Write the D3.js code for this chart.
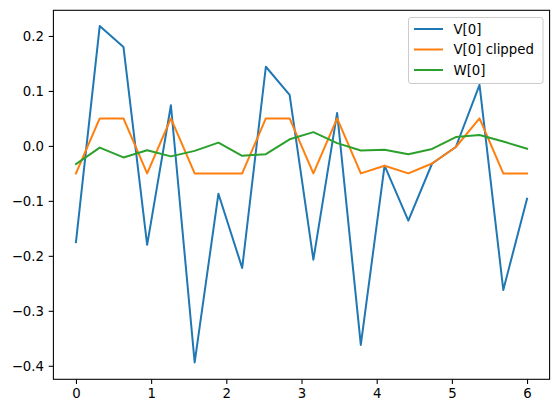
<!DOCTYPE html>
<html>
<head>
<meta charset="utf-8">
<script src="https://cdn.jsdelivr.net/npm/d3@7"></script>
<style>
  body { margin: 0; background: #fff; }
  svg text { font-family: "DejaVu Sans", sans-serif; }
</style>
</head>
<body>
<svg id="chart" width="559" height="413"></svg>
<script>
// x positions: 20 samples from 0 to 6
var xs = [0, 0.316, 0.632, 0.947, 1.263, 1.579, 1.895, 2.211, 2.526, 2.842,
          3.158, 3.474, 3.789, 4.105, 4.421, 4.737, 5.053, 5.368, 5.684, 6.0];

var v0 = [-0.175, 0.218, 0.180, -0.180, 0.074, -0.394, -0.087, -0.222, 0.144, 0.093,
          -0.207, 0.060, -0.362, -0.036, -0.136, -0.032, -0.002, 0.111, -0.262, -0.096];

var v0clipped = [-0.05, 0.05, 0.05, -0.05, 0.05, -0.05, -0.05, -0.05, 0.05, 0.05,
                 -0.05, 0.05, -0.05, -0.036, -0.05, -0.032, -0.002, 0.05, -0.05, -0.05];

var w0 = [-0.033, -0.003, -0.021, -0.008, -0.019, -0.009, 0.006, -0.018, -0.015, 0.012,
          0.025, 0.005, -0.0085, -0.007, -0.015, -0.0055, 0.016, 0.020, 0.008, -0.005];

var seriesNames = ["V[0]", "V[0] clipped", "W[0]"];
var colors = ["#1f77b4", "#ff7f0e", "#2ca02c"];
var xTicks = [0, 1, 2, 3, 4, 5, 6];
var yTicks = [0.2, 0.1, 0.0, -0.1, -0.2, -0.3, -0.4];

var svg = d3.select("#chart");
var plotLeft = 53.4, plotRight = 549.6, plotTop = 10.3, plotBottom = 379.3;

var x = d3.scaleLinear().domain([-0.3, 6.3]).range([plotLeft, plotRight]);
var y = d3.scaleLinear().domain([-0.4246, 0.2467]).range([plotBottom, plotTop]);

var fmt = function(d) { return d3.format(".1f")(d).replace("-", "\u2212"); };

var xAxis = svg.append("g")
    .attr("transform", "translate(0," + plotBottom + ")")
    .call(d3.axisBottom(x).tickValues(xTicks).tickSize(4.7).tickPadding(4.7).tickFormat(d3.format("d")));
var yAxis = svg.append("g")
    .attr("transform", "translate(" + plotLeft + ",0)")
    .call(d3.axisLeft(y).tickValues(yTicks).tickSize(4.7).tickPadding(4.7).tickFormat(fmt));

[xAxis, yAxis].forEach(function(a) {
  a.select(".domain").remove();
  a.selectAll("line").attr("stroke", "#000").attr("stroke-width", 1.07);
  a.selectAll("text").attr("fill", "#000").style("font-size", "13.3px")
    .style("font-family", "'DejaVu Sans', sans-serif");
});

var all = [v0, v0clipped, w0];
var line = d3.line()
    .x(function(d, i) { return x(xs[i]); })
    .y(function(d) { return y(d); });

all.forEach(function(s, k) {
  svg.append("path")
    .datum(s)
    .attr("fill", "none")
    .attr("stroke", colors[k])
    .attr("stroke-width", 2)
    .attr("stroke-linejoin", "round")
    .attr("stroke-linecap", "square")
    .attr("d", line);
});

// frame
svg.append("rect")
  .attr("x", plotLeft).attr("y", plotTop)
  .attr("width", plotRight - plotLeft).attr("height", plotBottom - plotTop)
  .attr("fill", "none").attr("stroke", "#000").attr("stroke-width", 1.07);

// legend
var lg = svg.append("g").attr("transform", "translate(408.5,17.5)");
lg.append("rect")
  .attr("width", 134.5).attr("height", 66)
  .attr("rx", 2.5)
  .attr("fill", "#fff").attr("fill-opacity", 0.8)
  .attr("stroke", "#ccc").attr("stroke-width", 1);

seriesNames.forEach(function(name, i) {
  var yy = 11.5 + i * 20.5;
  lg.append("line")
    .attr("x1", 5.5).attr("x2", 34.5)
    .attr("y1", yy).attr("y2", yy)
    .attr("stroke", colors[i]).attr("stroke-width", 2);
  lg.append("text")
    .attr("x", 45).attr("y", yy)
    .attr("dy", "0.36em")
    .style("font-size", "13.3px")
    .attr("fill", "#000")
    .text(name);
});
</script>
</body>
</html>
